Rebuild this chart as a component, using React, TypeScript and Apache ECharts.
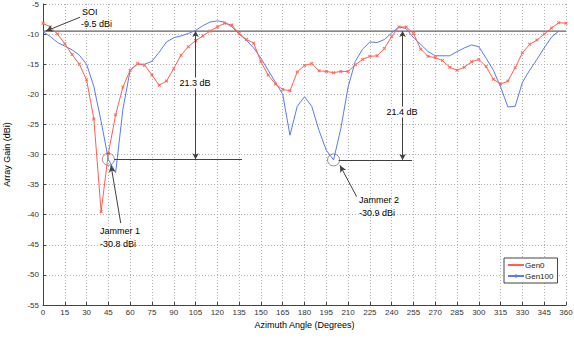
import React, { useEffect, useRef } from "react";
import * as echarts from "echarts";

const angles = [
  0, 5, 10, 15, 20, 25, 30, 35, 40, 45, 50, 55, 60, 65, 70, 75, 80, 85, 90, 95,
  100, 105, 110, 115, 120, 125, 130, 135, 140, 145, 150, 155, 160, 165, 170, 175,
  180, 185, 190, 195, 200, 205, 210, 215, 220, 225, 230, 235, 240, 245, 250, 255,
  260, 265, 270, 275, 280, 285, 290, 295, 300, 305, 310, 315, 320, 325, 330, 335,
  340, 345, 350, 355, 360,
];

// Gen0 (red, with markers), 0..360
const gen0 = [
  -8.2, -8.8, -10.0, -11.6, -13.4, -15.0, -17.6, -24.1, -39.5, -29.8, -23.4, -18.8,
  -16.0, -14.9, -15.2, -16.8, -18.5, -17.8, -15.7, -13.5, -12.1, -11.1, -10.3, -9.5,
  -8.8, -8.2, -8.5, -9.9, -10.9, -11.5, -14.6, -16.8, -18.3, -19.2, -19.4, -16.3,
  -15.2, -14.9, -16.1, -16.2, -16.4, -16.2, -16.2, -15.1, -14.2, -13.7, -13.6, -12.4,
  -10.4, -8.8, -8.8, -9.9, -12.5, -13.7, -13.9, -14.4, -15.5, -16.0, -15.5, -14.6,
  -14.2, -15.4, -17.5, -18.3, -17.8, -15.6, -13.1, -11.7, -11.0, -10.0, -9.0, -8.1,
  -8.2,
];

// Gen100 (blue), 0..355
const gen100 = [
  -9.6, -10.4, -11.4, -12.0, -12.6, -13.5, -15.0, -18.7, -24.5, -30.8, -33.0, -22.5,
  -16.0, -15.0, -15.0, -14.5, -13.0, -11.3, -10.6, -10.3, -9.9, -9.4, -8.6, -8.0,
  -7.8, -8.0, -8.8, -10.0, -11.0, -12.3, -14.0, -16.0, -18.0, -20.0, -26.8, -22.0,
  -20.4, -22.0, -26.0, -29.3, -30.9, -25.7, -18.8, -14.5, -12.5, -11.3, -11.4, -10.9,
  -9.8, -8.8, -9.1, -10.6, -11.7, -12.9, -13.6, -13.6, -13.6, -12.9, -12.3, -11.8,
  -12.1, -14.0, -16.0, -18.8, -22.1, -22.0, -18.0, -16.0, -14.2, -12.3, -10.5, -9.5,
];

const soiGain = -9.5;
const jammerAngles = [45, 200];
const jammerGains = [-30.8, -30.9];
const depthAngles = [105, 247.5];
const depthLabels = ["21.3 dB", "21.4 dB"];

const FONT = "'Liberation Sans', Arial, sans-serif";

export default function App() {
  const ref = useRef<HTMLDivElement>(null);

  useEffect(() => {
    document.body.style.margin = "0";
    const chart = echarts.init(ref.current!, null, { renderer: "svg" });

    const annotationText = (
      text: string,
      x: number,
      y: number,
      align: "left" | "center" = "left",
      bg?: string
    ) => ({
      type: "text",
      x,
      y,
      z: 100,
      style: {
        text,
        font: `9px ${FONT}`,
        fill: "#000",
        align,
        verticalAlign: "middle",
        backgroundColor: bg,
        padding: bg ? [1, 1] : 0,
      },
    });

    chart.setOption({
      animation: false,
      textStyle: { fontFamily: FONT },
      grid: {
        left: 43,
        right: 8,
        top: 4,
        bottom: 34,
        containLabel: false,
        outerBoundsMode: "none",
      },
      legend: {
        data: ["Gen0", "Gen100"],
        orient: "vertical",
        left: 504,
        top: 258,
        itemWidth: 16,
        itemHeight: 4,
        itemGap: 3,
        padding: [3, 4, 3, 3],
        borderColor: "#444",
        borderWidth: 1,
        backgroundColor: "#fff",
        textStyle: { fontSize: 8, color: "#222", padding: [0, 0, 0, -4] },
      },
      xAxis: {
        type: "value",
        min: 0,
        max: 360,
        interval: 15,
        name: "Azimuth Angle (Degrees)",
        nameLocation: "middle",
        nameGap: 15,
        nameTextStyle: { fontSize: 9, color: "#000" },
        axisLine: { show: true, lineStyle: { color: "#444" } },
        axisTick: { show: true, inside: true, length: 3, lineStyle: { color: "#444" } },
        axisLabel: { fontSize: 8, color: "#333", margin: 3 },
        splitLine: { show: true, lineStyle: { color: "#b0b0b0", type: [1, 2] } },
      },
      yAxis: {
        type: "value",
        min: -55,
        max: -5,
        interval: 5,
        name: "Array Gain (dBi)",
        nameLocation: "middle",
        nameGap: 32,
        nameTextStyle: { fontSize: 9, color: "#000" },
        axisLine: { show: true, onZero: false, lineStyle: { color: "#444" } },
        axisTick: { show: true, inside: true, length: 3, lineStyle: { color: "#444" } },
        axisLabel: { fontSize: 8, color: "#333", margin: 4 },
        splitLine: { show: true, lineStyle: { color: "#b0b0b0", type: [1, 2] } },
      },
      series: [
        {
          name: "Gen100",
          type: "line",
          data: gen100.map((g, i) => [angles[i], g]),
          showSymbol: false,
          symbol: "none",
          color: "#5b79f2",
          lineStyle: { width: 1, color: "#5b79f2" },
          z: 3,
        },
        {
          name: "Gen0",
          type: "line",
          data: gen0.map((g, i) => [angles[i], g]),
          symbol: "path://M0,1L1,0L5,4L4,5Z M4,0L5,1L1,5L0,4Z",
          symbolSize: 3.5,
          color: "#ff5f4f",
          itemStyle: { color: "#ff6a5a" },
          lineStyle: { width: 1, color: "#ff5f4f" },
          z: 4,
        },
        {
          name: "SOI level",
          type: "line",
          data: [
            [0, soiGain],
            [360, soiGain],
          ],
          symbol: "none",
          lineStyle: { width: 1.3, color: "#606060" },
          z: 2,
        },
        {
          name: "annotations",
          type: "line",
          data: [],
          z: 5,
          markLine: {
            silent: true,
            symbol: ["none", "none"],
            label: { show: false },
            lineStyle: { color: "#404040", type: "solid", width: 1 },
            data: [
              [
                { coord: [jammerAngles[0] + 4, jammerGains[0]], symbol: "none" },
                { coord: [137, jammerGains[0]], symbol: "none" },
              ],
              [
                { coord: [jammerAngles[1] + 3.5, jammerGains[1]], symbol: "none" },
                { coord: [254, jammerGains[1]], symbol: "none" },
              ],
              [
                { coord: [depthAngles[0], soiGain], symbol: "arrow", symbolSize: [5, 6] },
                { coord: [depthAngles[0], jammerGains[0]], symbol: "arrow", symbolSize: [5, 6] },
              ],
              [
                { coord: [depthAngles[1], soiGain], symbol: "arrow", symbolSize: [5, 6] },
                { coord: [depthAngles[1], jammerGains[1]], symbol: "arrow", symbolSize: [5, 6] },
              ],
              [
                { coord: [25.5, -7.2], symbol: "none" },
                { coord: [2, soiGain], symbol: "arrow", symbolSize: [5, 7] },
              ],
              [
                { coord: [53.5, -41.4], symbol: "none" },
                { coord: [46.8, -31.8], symbol: "arrow", symbolSize: [5, 7] },
              ],
              [
                { coord: [215.9, -37.0], symbol: "none" },
                { coord: [204.4, -31.8], symbol: "arrow", symbolSize: [5, 7] },
              ],
            ],
          },
        },
        {
          name: "jammers",
          type: "scatter",
          data: jammerAngles.map((a, i) => [a, jammerGains[i]]),
          symbol: "circle",
          symbolSize: 12,
          itemStyle: { color: "rgba(0,0,0,0)", borderColor: "#555", borderWidth: 0.8 },
          z: 6,
        },
      ],
      graphic: [
        annotationText("SOI", 82, 12),
        annotationText("-9.5 dBi", 81, 24),
        annotationText(depthLabels[0], 195, 83, "center", "#fff"),
        annotationText(depthLabels[1], 402, 112, "center", "#fff"),
        annotationText("Jammer 1", 100, 231),
        annotationText("-30.8 dBi", 100, 244),
        annotationText("Jammer 2", 359, 200),
        annotationText("-30.9 dBi", 359, 213),
      ],
    });

    return () => chart.dispose();
  }, []);

  return <div ref={ref} style={{ width: 574, height: 339 }} />;
}
